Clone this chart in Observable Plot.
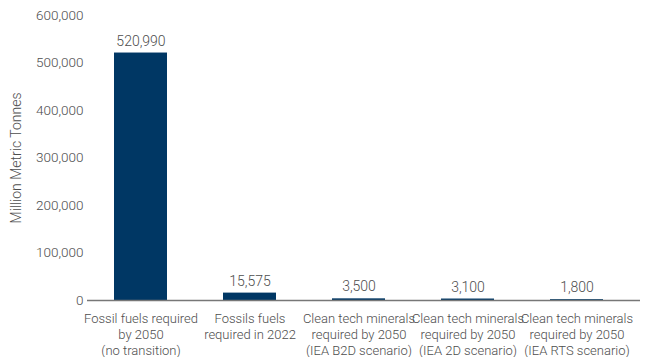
<!DOCTYPE html>
<html>
<head>
<meta charset="utf-8">
<script src="https://cdn.jsdelivr.net/npm/d3@7"></script>
<script src="https://cdn.jsdelivr.net/npm/@observablehq/plot@0.6"></script>
<style>
  body { margin: 0; background: #fff; }
  svg { font-family: Roboto, "Noto Sans", sans-serif; font-weight: 300; }
</style>
</head>
<body>
<div id="chart"></div>
<script>
const categories = [
  "Fossil fuels required\nby 2050\n(no transition)",
  "Fossils fuels\nrequired in 2022",
  "Clean tech minerals\nrequired by 2050\n(IEA B2D scenario)",
  "Clean tech minerals\nrequired by 2050\n(IEA 2D scenario)",
  "Clean tech minerals\nrequired by 2050\n(IEA RTS scenario)"
];
const values = [520990, 15575, 3500, 3100, 1800];
const yTicks = [0, 100000, 200000, 300000, 400000, 500000, 600000];

const data = categories.map((c, i) => ({category: c, value: values[i]}));
const fmt = d3.format(",");

const chart = Plot.plot({
  width: 650,
  height: 357,
  marginLeft: 86,
  marginRight: 19,
  marginTop: 15,
  marginBottom: 57,
  style: {fontSize: "13px", color: "#4d4d4d", fontFamily: "Roboto, sans-serif", fontWeight: 300},
  x: {domain: categories, paddingInner: 0.51, paddingOuter: 0.255, label: null},
  y: {domain: [0, 600000], ticks: yTicks, tickFormat: fmt, label: null},
  marks: [
    Plot.axisY({ticks: yTicks, tickFormat: fmt, tickSize: 0, tickPadding: 3, fontSize: 13.5, fill: "#4d4d4d", label: null}),
    Plot.text(["Million Metric Tonnes"], {frameAnchor: "left", textAnchor: "middle", rotate: -90, dx: -70, fill: "#4d4d4d", fontSize: 14}),
    Plot.axisX({tickSize: 0, tickPadding: 11, fontSize: 13, fill: "#4d4d4d", lineHeight: 1.23, textAnchor: "middle"}),
    Plot.barY(data, {x: "category", y: "value", fill: "#003764"}),
    Plot.ruleY([0], {stroke: "#777", strokeWidth: 1.5, insetRight: -9, insetLeft: 1}),
    Plot.text(data, {x: "category", y: "value", text: d => fmt(d.value), dy: -12, fill: "#4d4d4d", fontSize: 14})
  ]
});
document.getElementById("chart").appendChild(chart);
</script>
</body>
</html>
